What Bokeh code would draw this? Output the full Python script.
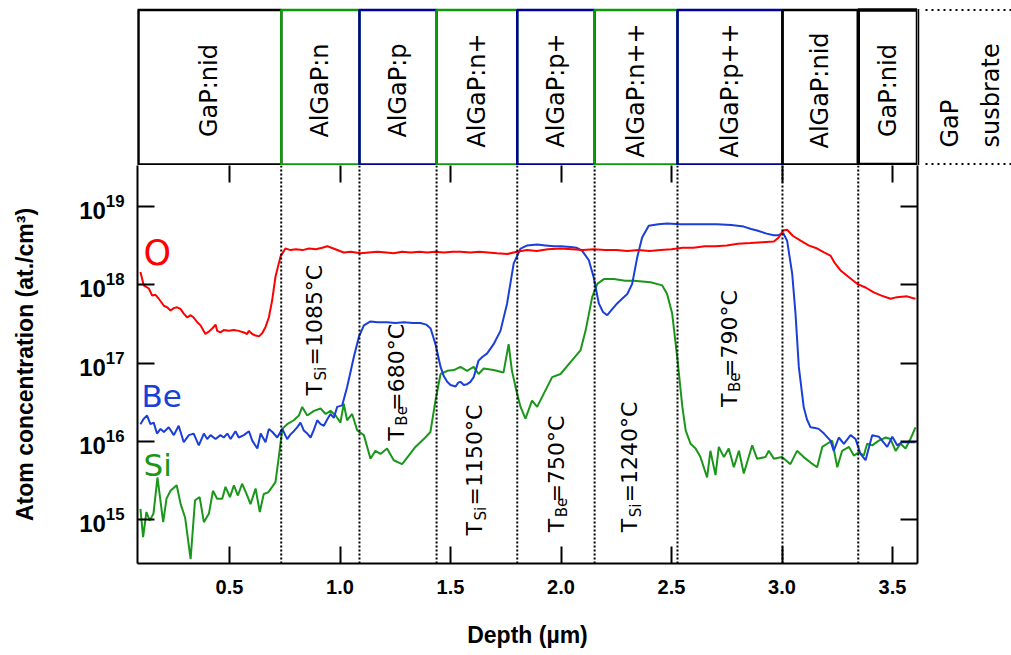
import math
import numpy as np
from bokeh.plotting import figure
from bokeh.models import (Range1d, LogAxis, LinearAxis, FixedTicker, Span, Label, Arrow,
                          ColumnDataSource)
from bokeh.layouts import column, row
from bokeh.embed import file_html
from bokeh.resources import INLINE
from bokeh.core.properties import value

# ---------------- data ----------------
o_depth = [0.097, 0.112, 0.135, 0.150, 0.165, 0.180, 0.203, 0.218, 0.233, 0.248, 0.263, 0.278,
           0.293, 0.309, 0.324, 0.338, 0.354, 0.369, 0.391, 0.406, 0.422, 0.437, 0.444, 0.459,
           0.474, 0.497, 0.520, 0.542, 0.565, 0.580, 0.587, 0.603, 0.618, 0.633, 0.648, 0.663,
           0.678, 0.693, 0.708, 0.731, 0.753, 0.776, 0.80, 0.83, 0.86, 0.89, 0.92, 0.942, 0.97,
           1.017, 1.05, 1.093, 1.13, 1.17, 1.21, 1.243, 1.28, 1.32, 1.36, 1.395, 1.43, 1.47,
           1.51, 1.545, 1.59, 1.63, 1.67, 1.71, 1.757, 1.80, 1.847, 1.89, 1.94, 1.998, 2.05,
           2.10, 2.148, 2.20, 2.25, 2.30, 2.35, 2.40, 2.45, 2.50, 2.55, 2.60, 2.65, 2.70, 2.75,
           2.80, 2.857, 2.91, 2.963, 2.985, 3.005, 3.023, 3.05, 3.084, 3.12, 3.159, 3.19, 3.219,
           3.24, 3.265, 3.30, 3.340, 3.38, 3.415, 3.45, 3.491, 3.52, 3.566, 3.59, 3.604]
o_log = [18.16, 17.99, 17.95, 17.86, 17.87, 17.82, 17.73, 17.71, 17.67, 17.70, 17.71, 17.69,
         17.63, 17.58, 17.61, 17.58, 17.52, 17.48, 17.37, 17.40, 17.44, 17.49, 17.41, 17.39,
         17.42, 17.41, 17.42, 17.41, 17.39, 17.37, 17.41, 17.37, 17.35, 17.34, 17.38, 17.46,
         17.58, 17.80, 18.10, 18.36, 18.46, 18.44, 18.45, 18.44, 18.46, 18.45, 18.47, 18.49, 18.46,
         18.41, 18.42, 18.40, 18.41, 18.42, 18.41, 18.40, 18.42, 18.41, 18.42, 18.41, 18.42, 18.41,
         18.42, 18.42, 18.41, 18.42, 18.41, 18.40, 18.39, 18.42, 18.44, 18.43, 18.45, 18.46, 18.45,
         18.44, 18.45, 18.44, 18.44, 18.43, 18.44, 18.43, 18.44, 18.45, 18.47, 18.47, 18.49, 18.49,
         18.50, 18.52, 18.53, 18.54, 18.55, 18.60, 18.69, 18.70, 18.62, 18.56, 18.50, 18.46, 18.41,
         18.37, 18.27, 18.18, 18.10, 18.01, 17.96, 17.90, 17.86, 17.82, 17.84, 17.85, 17.83, 17.82]

be_depth = [0.097, 0.112, 0.127, 0.142, 0.157, 0.172, 0.188, 0.203, 0.225, 0.248, 0.270, 0.293,
            0.316, 0.338, 0.361, 0.384, 0.399, 0.414, 0.437, 0.459, 0.474, 0.490, 0.505, 0.527,
            0.542, 0.565, 0.588, 0.603, 0.626, 0.641, 0.663, 0.678, 0.694, 0.716, 0.739, 0.761,
            0.776, 0.791, 0.806, 0.821, 0.836, 0.852, 0.867, 0.882, 0.897, 0.912, 0.927, 0.942,
            0.957, 0.972, 0.987, 1.010, 1.032, 1.047, 1.062, 1.085, 1.108, 1.138, 1.17, 1.213,
            1.25, 1.289, 1.33, 1.364, 1.390, 1.410, 1.432, 1.455, 1.470, 1.485, 1.500, 1.523,
            1.535, 1.545, 1.560, 1.575, 1.590, 1.605, 1.627, 1.645, 1.665, 1.695, 1.726, 1.756,
            1.786, 1.817, 1.847, 1.892, 1.93, 1.968, 2.00, 2.043, 2.07, 2.096, 2.126, 2.148,
            2.171, 2.190, 2.209, 2.23, 2.254, 2.280, 2.300, 2.322, 2.345, 2.367, 2.397, 2.44,
            2.480, 2.54, 2.601, 2.65, 2.706, 2.77, 2.827, 2.860, 2.887, 2.93, 2.963, 2.985,
            3.005, 3.023, 3.046, 3.061, 3.076, 3.098, 3.113, 3.129, 3.150, 3.166, 3.19, 3.219,
            3.234, 3.257, 3.280, 3.310, 3.333, 3.355, 3.378, 3.408, 3.438, 3.476, 3.499, 3.521,
            3.544, 3.574, 3.604]
be_log = [16.22, 16.29, 16.33, 16.22, 16.24, 16.10, 16.16, 16.12, 16.18, 16.08, 16.20, 15.99,
          16.08, 16.10, 15.95, 16.10, 16.03, 16.08, 16.03, 16.08, 16.05, 16.10, 16.03, 16.13,
          16.05, 16.08, 16.13, 16.01, 15.91, 16.10, 15.99, 16.16, 16.12, 16.05, 16.16, 16.03,
          16.09, 16.13, 16.18, 16.24, 16.14, 16.10, 16.05, 16.15, 16.27, 16.22, 16.20, 16.28,
          16.35, 16.30, 16.44, 16.46, 16.69, 16.88, 17.07, 17.33, 17.48, 17.53, 17.52, 17.52,
          17.51, 17.52, 17.51, 17.51, 17.49, 17.44, 17.24, 16.95, 16.83, 16.76, 16.72, 16.70,
          16.75, 16.76, 16.72, 16.73, 16.76, 16.82, 17.03, 17.08, 17.12, 17.24, 17.41, 17.76,
          18.27, 18.46, 18.50, 18.51, 18.50, 18.49, 18.49, 18.48, 18.47, 18.43, 18.31, 18.09,
          17.76, 17.65, 17.61, 17.68, 17.76, 17.83, 17.88, 18.01, 18.35, 18.60, 18.75, 18.77,
          18.78, 18.77, 18.77, 18.77, 18.77, 18.76, 18.74, 18.71, 18.69, 18.65, 18.63, 18.63,
          18.66, 18.56, 18.14, 17.63, 16.95, 16.44, 16.28, 16.18, 16.17, 16.16, 16.10, 16.01,
          15.88, 16.05, 15.97, 16.08, 16.03, 15.84, 15.76, 16.08, 16.06, 15.93, 16.06, 15.95,
          15.99, 15.99, 15.99]

si_depth = [0.097, 0.109, 0.124, 0.139, 0.156, 0.174, 0.200, 0.215, 0.233, 0.261, 0.279, 0.299,
            0.324, 0.344, 0.365, 0.384, 0.407, 0.425, 0.444, 0.467, 0.482, 0.502, 0.520, 0.538,
            0.557, 0.577, 0.595, 0.618, 0.637, 0.655, 0.675, 0.693, 0.708, 0.723, 0.739, 0.761,
            0.791, 0.814, 0.829, 0.852, 0.882, 0.912, 0.935, 0.957, 0.980, 1.002, 1.017, 1.032,
            1.055, 1.078, 1.108, 1.138, 1.160, 1.183, 1.213, 1.243, 1.281, 1.311, 1.341, 1.379,
            1.409, 1.432, 1.455, 1.485, 1.515, 1.545, 1.575, 1.605, 1.627, 1.650, 1.695, 1.740,
            1.763, 1.778, 1.801, 1.817, 1.839, 1.869, 1.892, 1.922, 1.960, 1.998, 2.043, 2.088,
            2.111, 2.141, 2.164, 2.194, 2.239, 2.290, 2.330, 2.405, 2.458, 2.480, 2.503, 2.526,
            2.549, 2.564, 2.586, 2.609, 2.631, 2.661, 2.676, 2.699, 2.714, 2.737, 2.759, 2.782,
            2.805, 2.827, 2.865, 2.887, 2.925, 2.940, 2.963, 3.000, 3.038, 3.068, 3.098, 3.129,
            3.159, 3.182, 3.204, 3.227, 3.250, 3.272, 3.303, 3.325, 3.348, 3.370, 3.385, 3.408,
            3.438, 3.469, 3.491, 3.514, 3.536, 3.559, 3.581, 3.604]
si_log = [15.14, 14.78, 15.10, 14.99, 15.08, 15.54, 14.97, 15.27, 15.37, 15.44, 15.20, 15.03,
          14.50, 15.25, 15.29, 14.97, 15.08, 15.37, 15.27, 15.27, 15.42, 15.29, 15.44, 15.31,
          15.46, 15.33, 15.20, 15.40, 15.10, 15.33, 15.35, 15.42, 15.48, 15.80, 16.16, 16.22,
          16.27, 16.33, 16.44, 16.33, 16.39, 16.42, 16.35, 16.39, 16.33, 16.24, 16.48, 16.27,
          16.35, 16.14, 16.08, 15.78, 15.88, 15.84, 15.91, 15.76, 15.71, 15.82, 15.93, 16.03,
          16.12, 16.52, 16.86, 16.90, 16.91, 16.95, 16.90, 16.95, 16.86, 16.93, 16.91, 16.88,
          17.24, 16.90, 16.61, 16.44, 16.29, 16.52, 16.44, 16.61, 16.82, 16.86, 17.01, 17.16,
          17.41, 17.84, 18.01, 18.07, 18.07, 18.05, 18.05, 18.03, 17.99, 17.88, 17.63, 17.07,
          16.44, 16.14, 15.97, 15.91, 15.80, 15.54, 15.88, 15.57, 15.93, 15.80, 15.91, 15.67,
          15.88, 15.59, 15.95, 15.78, 15.80, 15.88, 15.78, 15.80, 15.71, 15.88, 15.80, 15.73,
          15.67, 15.93, 15.97, 16.01, 15.67, 15.88, 15.93, 15.82, 15.86, 15.82, 15.97, 15.95,
          16.01, 16.05, 16.03, 15.88, 15.97, 15.91, 16.03, 16.18]

layer_names = ["GaP:nid", "AlGaP:n", "AlGaP:p", "AlGaP:n+", "AlGaP:p+", "AlGaP:n++",
               "AlGaP:p++", "AlGaP:nid", "GaP:nid"]
layer_bounds = [0.734, 1.088, 1.437, 1.802, 2.152, 2.527, 3.002, 3.345]
substrate_name = "GaP\nsusbrate"

x_ticks = [0.5, 1.0, 1.5, 2.0, 2.5, 3.0, 3.5]
x_tick_labels = ["0.5", "1.0", "1.5", "2.0", "2.5", "3.0", "3.5"]
y_ticks = [1e15, 1e16, 1e17, 1e18, 1e19]

temp_elements = ["Si", "Be", "Si", "Be", "Si", "Be"]
temp_values = ["=1085°C", "=680°C", "=1150°C", "=750°C", "=1240°C", "=790°C"]

series_names = ["O", "Be", "Si"]

# ---------------- styles / layout ----------------
RED = "#ff0000"
BLUE = "#1a3fd9"
GREEN = "#1a961a"
BOX_GREEN = "#0c9a0c"
BOX_BLUE = "#000099"
layer_edge = ["black", BOX_GREEN, BOX_BLUE, BOX_GREEN, BOX_BLUE, BOX_GREEN, BOX_BLUE,
              "black", "black"]
layer_edge_w = [2.5, 2.5, 2.5, 2.5, 2.5, 2.5, 2.5, 2.5, 3.5]

X0, X1 = 0.0837, 3.613
Y0, Y1 = 10 ** 14.443, 10 ** 19.519
W = 1011
FRAME_L = 137
FRAME_W = 780
BORDER_R = W - FRAME_L - FRAME_W
S = FRAME_W / (X1 - X0)          # px per micron
TOP_H = 165
MAIN_H = 490

BOLD_FONT = "Liberation Sans"
TXT_FONT = "DejaVu Sans"

xr = Range1d(X0, X1)

# ---------------- top band with the layer stack ----------------
pt = figure(width=FRAME_L + FRAME_W, height=TOP_H, x_range=xr, y_range=Range1d(0, TOP_H),
            x_axis_location=None, y_axis_location=None, title=None,
            output_backend="svg", toolbar_location=None,
            min_border_left=FRAME_L, min_border_right=0,
            min_border_top=0, min_border_bottom=0)
pt.grid.visible = False
pt.outline_line_color = None

BOX_TOP = TOP_H - 9.5
BOX_BOT = 1
lefts = [X0] + layer_bounds
rights = layer_bounds + [X1]
centers = [(a + b) / 2 for a, b in zip(lefts, rights)]
box_src = ColumnDataSource(dict(left=lefts, right=rights, name=layer_names, cx=centers,
                                edge=layer_edge, ew=layer_edge_w))
pt.quad(left="left", right="right", bottom=BOX_BOT, top=BOX_TOP, source=box_src,
        fill_color=None, line_color="edge", line_width="ew")
pt.text(x="cx", y=TOP_H - 90, text="name", source=box_src, angle=math.pi / 2,
        text_align="center", text_baseline="middle", text_font=value(TXT_FONT),
        text_font_size="24px", text_color="black")
pt.add_layout(Arrow(start=None, end=None, x_start=X0 + 1 / S, x_end=X0 + 1 / S,
                    y_start=BOX_BOT, y_end=BOX_TOP, line_color="black", line_width=2.5))

# ---------------- substrate panel (right of the stack) ----------------
ps = figure(width=BORDER_R, height=TOP_H, x_range=Range1d(0, BORDER_R),
            y_range=Range1d(0, TOP_H), x_axis_location=None, y_axis_location=None,
            title=None, output_backend="svg", toolbar_location=None,
            min_border_left=0, min_border_right=0, min_border_top=0, min_border_bottom=0)
ps.grid.visible = False
ps.outline_line_color = None
ps.segment(x0=[0, 8, 8], x1=[0, BORDER_R, BORDER_R], y0=[BOX_BOT - 1, BOX_BOT + 0.5, BOX_TOP],
           y1=[BOX_TOP + 1, BOX_BOT + 0.5, BOX_TOP],
           line_color="black", line_width=[3.5, 2, 2], line_dash=["solid", "2 4", "2 4"])
ps.text(x=[53], y=[TOP_H - 147], text=[substrate_name], angle=math.pi / 2,
        text_align="left", text_baseline="middle", text_font=value(TXT_FONT),
        text_font_size="24px", text_line_height=1.45, text_color="black")

# ---------------- main SIMS profile ----------------
p = figure(width=W, height=MAIN_H, x_range=xr, y_range=Range1d(Y0, Y1),
           y_axis_type="log", title=None, output_backend="svg", toolbar_location=None,
           min_border_left=FRAME_L, min_border_right=BORDER_R,
           min_border_top=0, min_border_bottom=92)
p.grid.visible = False
p.outline_line_color = None

for b in layer_bounds:
    p.add_layout(Span(location=b, dimension="height", line_color="black",
                      line_width=2, line_dash="2 2"))

p.line(si_depth, np.power(10.0, si_log), line_color=GREEN, line_width=2)
p.line(be_depth, np.power(10.0, be_log), line_color=BLUE, line_width=2)
p.line(o_depth, np.power(10.0, o_log), line_color=RED, line_width=2)

# axes
xa = p.xaxis[0]
xa.ticker = FixedTicker(ticks=x_ticks, minor_ticks=[])
xa.major_label_overrides = dict(zip(x_ticks, x_tick_labels))
xa.axis_label = "Depth (µm)"
ya = p.yaxis[0]
ya.ticker = FixedTicker(ticks=y_ticks, minor_ticks=[])
ya.axis_label = "Atom concentration (at./cm³)"
for ax in (xa, ya):
    ax.axis_line_width = 2
    ax.axis_line_color = "black"
    ax.major_tick_in = 17
    ax.major_tick_out = 0
    ax.major_tick_line_width = 2
    ax.minor_tick_line_color = None
    ax.major_label_text_font = BOLD_FONT
    ax.major_label_text_font_style = "bold"
    ax.axis_label_text_font = BOLD_FONT
    ax.axis_label_text_font_style = "bold"
    ax.axis_label_text_font_size = "23px"
    ax.axis_label_text_color = "black"
    ax.major_label_text_color = "black"
xa.major_label_text_font_size = "20px"
xa.major_label_standoff = 16
xa.axis_label_standoff = 25
ya.major_label_text_font_size = "24px"
ya.major_label_standoff = 13
ya.axis_label_standoff = 38

ra = LogAxis(ticker=FixedTicker(ticks=y_ticks, minor_ticks=[]), axis_line_width=2,
             major_tick_in=17, major_tick_out=0, major_tick_line_width=2,
             minor_tick_line_color=None, major_label_text_font_size="1px",
             major_label_overrides={t: "" for t in y_ticks}, major_label_standoff=0)
p.add_layout(ra, "right")
ta = LinearAxis(ticker=FixedTicker(ticks=x_ticks, minor_ticks=[]), axis_line_color=None,
                major_tick_in=17, major_tick_out=0, major_tick_line_width=2,
                minor_tick_line_color=None, major_label_text_font_size="1px",
                major_label_overrides={t: "" for t in x_ticks}, major_label_standoff=0)
p.add_layout(ta, "above")

# series names
series_pos = [(0.111, 18.397, 35, RED), (0.102, 16.585, 31, BLUE), (0.111, 15.705, 31, GREEN)]
for name, (dx, ly, fs, col) in zip(series_names, series_pos):
    p.add_layout(Label(x=dx, y=10 ** ly, text=name, text_font=TXT_FONT,
                       text_font_size=f"{fs}px", text_color=col,
                       text_align="left", text_baseline="middle"))

# growth temperatures (rotated, with subscript)
temp_pos = [(0.885, 16.585), (1.254, 16.01), (1.609, 14.80), (1.978, 14.84),
            (2.310, 14.84), (2.762, 16.44)]
for el, tv, (dx, ly) in zip(temp_elements, temp_values, temp_pos):
    common = dict(x=dx, y=10 ** ly, angle=math.pi / 2, text_font=TXT_FONT,
                  text_align="left", text_baseline="middle", text_color="black")
    p.add_layout(Label(text="T", text_font_size="22px", **common))
    p.add_layout(Label(text=el, text_font_size="15px", x_offset=6, y_offset=15, **common))
    p.add_layout(Label(text=tv, text_font_size="22px", y_offset=30, **common))

layout = column(row(pt, ps, spacing=0), p, spacing=0)
open("out.html", "w").write(file_html(layout, INLINE))
